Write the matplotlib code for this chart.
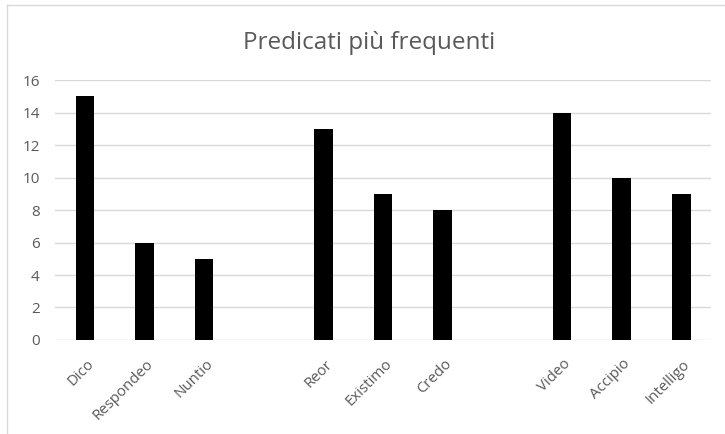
import matplotlib.pyplot as plt
from matplotlib.lines import Line2D
from matplotlib.transforms import ScaledTranslation

# categories in chart order; empty strings are the blank slots between groups
categories = ['Dico', 'Respondeo', 'Nuntio', '', 'Reor', 'Existimo', 'Credo', '',
              'Video', 'Accipio', 'Intelligo']
values = [15, 6, 5, 0, 13, 9, 8, 0, 14, 10, 9]
yticks = [0, 2, 4, 6, 8, 10, 12, 14, 16]

plt.rcParams['font.family'] = ['Open Sans', 'DejaVu Sans']
grey = '#595959'

fig = plt.figure(figsize=(7.25, 4.34), dpi=100)
ax = fig.add_axes([0.0759, 0.2166, 0.905, 0.599])

x = list(range(len(categories)))
ax.bar(x, values, width=0.31, color='black', zorder=3)

ax.set_xlim(-0.5, len(categories) - 0.5)
ax.set_ylim(0, 16)
ax.set_yticks(yticks)
ax.grid(axis='y', color='#d9d9d9', linewidth=1, zorder=0)
ax.set_xticks(x)
ax.set_xticklabels(categories, rotation=45, ha='right', rotation_mode='anchor',
                   color=grey, fontsize=10.8)
ax.tick_params(axis='x', length=0, pad=12)
ax.tick_params(axis='y', length=0, pad=11, labelcolor=grey, labelsize=11)
# small nudge so the labels end just right of the bar centre
shift = ScaledTranslation(1/72, 0, fig.dpi_scale_trans)
for lab in ax.get_xticklabels():
    lab.set_transform(lab.get_transform() + shift)
for s in ax.spines.values():
    s.set_visible(False)

fig.text(369/725, 1 - 49/434, 'Predicati più frequenti', ha='center', va='baseline',
         fontsize=17.5, color=grey)

# chart frame (left and top edges visible)
fig.add_artist(Line2D([7/725, 7/725], [0, 1 - 5/434], color='#d9d9d9', lw=1))
fig.add_artist(Line2D([7/725, 1], [1 - 5/434, 1 - 5/434], color='#d9d9d9', lw=1))

fig.savefig('out.png', dpi=100)
